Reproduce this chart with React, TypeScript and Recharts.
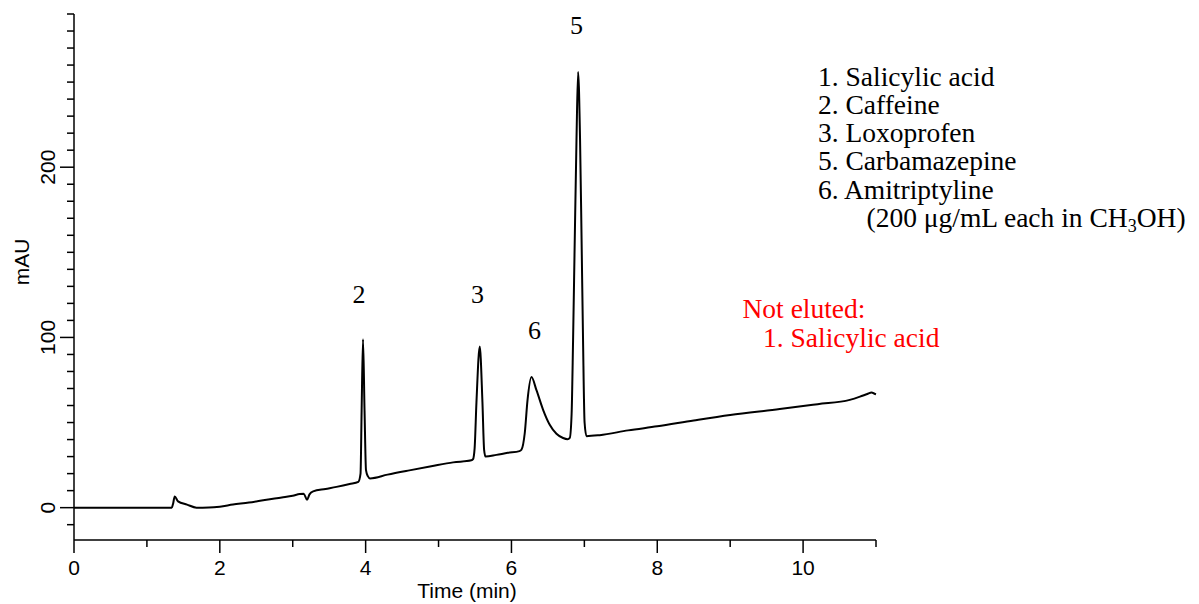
import { LineChart, Line, XAxis, YAxis } from 'recharts';

// Chromatogram trace: retention time (min) and absorbance (mAU)
const times = [
  0, 0.5, 1.0, 1.34, 1.36, 1.381, 1.427, 1.55, 1.68, 1.85, 2.0, 2.18, 2.4, 2.64, 2.85, 3.0, 3.096, 3.15,
  3.196, 3.23, 3.28, 3.45, 3.6, 3.78, 3.9, 3.93, 3.945, 3.964, 3.985, 4.005, 4.03, 4.06,
  4.3, 4.6, 4.9, 5.2, 5.45, 5.473, 5.495, 5.52, 5.565, 5.602, 5.625, 5.645, 5.794, 5.95, 6.11, 6.137,
  6.183, 6.22, 6.274, 6.343, 6.434, 6.525, 6.617, 6.708, 6.77, 6.8, 6.825, 6.845, 6.868, 6.892, 6.914,
  6.941, 6.962, 6.982, 7.003, 7.029, 7.21, 7.6, 8.0, 8.5, 9.0, 9.68, 10.2, 10.64, 10.78, 10.88, 10.94,
  10.98, 11.0,
];
const absorbance = [
  0, 0, 0, 0, 2.5, 6.6, 3.7, 1.8, 0, 0.1, 0.6, 1.8, 3.0, 4.7, 6.0, 7.0, 8.0, 8.2,
  4.7, 7.8, 9.6, 11.0, 12.2, 13.9, 15.2, 20, 57, 99, 57, 22, 18.5, 17.2,
  19.4, 21.9, 24.3, 26.6, 27.8, 28.5, 35, 62, 94.6, 62, 34, 30, 31, 32.2, 33.2, 34,
  44, 63, 76.7, 69, 57.5, 48.7, 43.4, 40.9, 40.2, 41, 55, 98, 157, 216, 256,
  216, 157, 98, 50, 42, 42.6, 45.4, 47.8, 51.2, 54.4, 57.9, 60.8, 63.3, 65.2, 66.8, 67.7,
  66.9, 66.6,
];
const data = times.map((t, i) => ({ t, v: absorbance[i] }));

const xTicks = [0, 1, 2, 3, 4, 5, 6, 7, 8, 9, 10, 11];
const yTicks = [-10, 0, 10, 20, 30, 40, 50, 60, 70, 80, 90, 100, 110, 120, 130, 140, 150, 160, 170, 180, 190,
  200, 210, 220, 230, 240, 250, 260, 270, 280, 290];

const peakLabels = ['2', '3', '6', '5'];
const legendLines = ['1. Salicylic acid', '2. Caffeine', '3. Loxoprofen', '5. Carbamazepine', '6. Amitriptyline'];
const notEluted = ['Not eluted:', '1. Salicylic acid'];

const sans = '"Liberation Sans", Arial, sans-serif';
const serif = '"Liberation Serif", "Times New Roman", serif';

const XTick = (props: any) => {
  const { x, y, payload } = props;
  const major = payload.value % 2 === 0;
  return (
    <g>
      <line x1={x} y1={y} x2={x} y2={y + (major ? 13 : 7)} stroke="#000" strokeWidth={1.5} />
      {major && (
        <text x={x} y={y + 35} textAnchor="middle" fontFamily={sans} fontSize={21} fill="#000">
          {payload.value}
        </text>
      )}
    </g>
  );
};

const YTick = (props: any) => {
  const { x, y, payload } = props;
  const major = payload.value % 100 === 0;
  return (
    <g>
      <line x1={x - (major ? 14 : 7)} y1={y} x2={x} y2={y} stroke="#000" strokeWidth={1.5} />
      {major && (
        <text
          x={0}
          y={0}
          transform={`translate(${x - 19}, ${y}) rotate(-90)`}
          textAnchor="middle"
          fontFamily={sans}
          fontSize={21}
          fill="#000"
        >
          {payload.value}
        </text>
      )}
    </g>
  );
};

const App = () => {
  const peakPos = [
    { x: 359, y: 303 },
    { x: 477.5, y: 303 },
    { x: 534.5, y: 339 },
    { x: 576.5, y: 34 },
  ];
  return (
    <div style={{ position: 'absolute', left: 0, top: 0, width: 1199, height: 604, background: '#fff' }}>
      <LineChart width={1199} height={604} data={data} margin={{ top: 14, right: 323, left: 0, bottom: 0 }}>
        <XAxis
          dataKey="t"
          type="number"
          domain={[0, 11]}
          ticks={xTicks}
          interval={0}
          height={64}
          tickSize={0}
          tickMargin={0}
          tickLine={false}
          axisLine={{ stroke: '#000', strokeWidth: 1.5 }}
          tick={<XTick />}
        />
        <YAxis
          type="number"
          domain={[-19, 290]}
          ticks={yTicks}
          interval={0}
          width={74}
          tickSize={0}
          tickMargin={0}
          tickLine={false}
          axisLine={{ stroke: '#000', strokeWidth: 1.5 }}
          tick={<YTick />}
        />
        <Line
          type="monotone"
          dataKey="v"
          stroke="#000"
          strokeWidth={2}
          dot={false}
          isAnimationActive={false}
        />
      </LineChart>
      <svg
        width={1199}
        height={604}
        style={{ position: 'absolute', left: 0, top: 0, pointerEvents: 'none' }}
      >
        <text
          x={0}
          y={0}
          transform="translate(29, 262) rotate(-90)"
          textAnchor="middle"
          fontFamily={sans}
          fontSize={21}
          fill="#000"
        >
          mAU
        </text>
        <text x={467} y={598} textAnchor="middle" fontFamily={sans} fontSize={21} fill="#000">
          Time (min)
        </text>
        {peakLabels.map((p, i) => (
          <text key={p} x={peakPos[i].x} y={peakPos[i].y} textAnchor="middle" fontFamily={serif} fontSize={26} fill="#000">
            {p}
          </text>
        ))}
        {legendLines.map((s, i) => (
          <text key={s} x={818} y={85.7 + i * 28.2} fontFamily={serif} fontSize={27.5} fill="#000">
            {s}
          </text>
        ))}
        <text x={866.5} y={85.7 + 5 * 28.2} fontFamily={serif} fontSize={27.5} fill="#000">
          (200 μg/mL each in CH
          <tspan fontSize={18} dy={5}>3</tspan>
          <tspan dy={-5}>OH)</tspan>
        </text>
        {notEluted.map((s, i) => (
          <text key={s} x={i === 0 ? 742.5 : 763} y={318 + i * 28.7} fontFamily={serif} fontSize={27.5} fill="#ff0000">
            {s}
          </text>
        ))}
      </svg>
    </div>
  );
};

export default App;
